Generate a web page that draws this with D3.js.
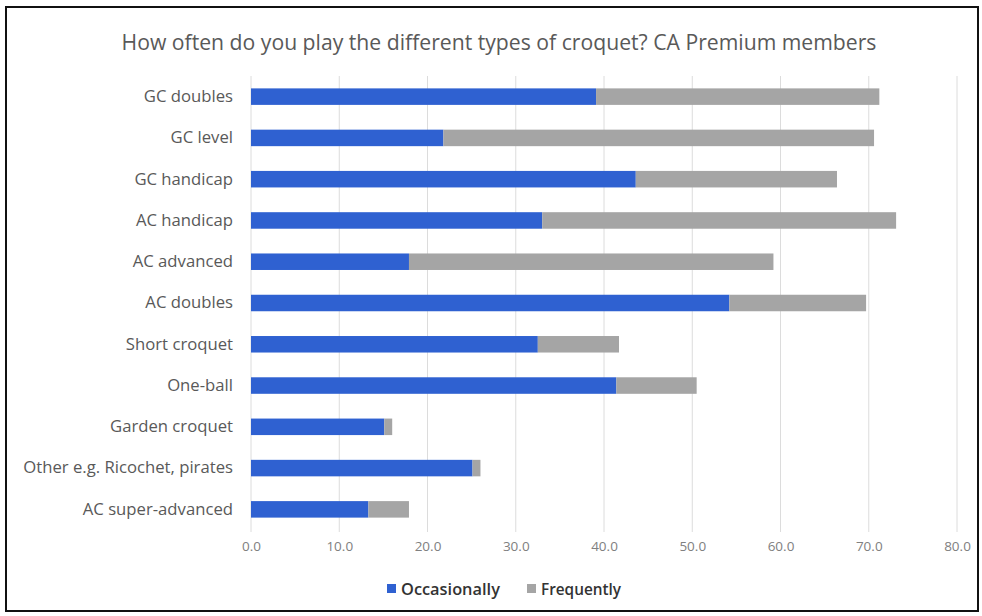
<!DOCTYPE html>
<html>
<head>
<meta charset="utf-8">
<script src="https://cdn.jsdelivr.net/npm/d3@7"></script>
<style>
  html, body { margin: 0; padding: 0; background: #fff; }
  svg { display: block; }
  text { font-family: "Open Sans", "Noto Sans", sans-serif; }
</style>
</head>
<body>
<svg id="chart" width="982" height="616"></svg>
<script>
const title = "How often do you play the different types of croquet? CA Premium members";
const categories = ["GC doubles", "GC level", "GC handicap", "AC handicap", "AC advanced",
  "AC doubles", "Short croquet", "One-ball", "Garden croquet", "Other e.g. Ricochet, pirates",
  "AC super-advanced"];
const occasionally = [39.1, 21.8, 43.6, 33.0, 17.9, 54.2, 32.5, 41.4, 15.1, 25.1, 13.3];
const frequently   = [32.1, 48.8, 22.8, 40.1, 41.3, 15.5, 9.2, 9.1, 0.9, 0.9, 4.6];
const seriesNames = ["Occasionally", "Frequently"];
const xTicks = [0, 10, 20, 30, 40, 50, 60, 70, 80];

const colors = { Occasionally: "#2f61d1", Frequently: "#a5a5a5" };

const svg = d3.select("#chart");

// frame
svg.append("rect").attr("x", 6).attr("y", 7).attr("width", 972).attr("height", 604)
  .attr("fill", "#fff").attr("stroke", "#111").attr("stroke-width", 2);

const x = d3.scaleLinear().domain([0, 80]).range([251, 957]);
const y = d3.scaleBand().domain(categories).range([76, 530]).paddingInner(0.6).paddingOuter(0.3);

function fit(sel, target) {
  const w = sel.node().getComputedTextLength();
  const fs = parseFloat(sel.attr("font-size"));
  sel.attr("font-size", (fs * target / w).toFixed(2));
  return fs * target / w;
}

// gridlines
svg.append("g").selectAll("line").data(xTicks).join("line")
  .attr("x1", d => x(d)).attr("x2", d => x(d))
  .attr("y1", 76).attr("y2", 532)
  .attr("stroke", "#dcdcdc").attr("stroke-width", 1);

// stacked bars
const rows = categories.map((c, i) => ({ cat: c, Occasionally: occasionally[i], Frequently: frequently[i] }));
const stack = d3.stack().keys(seriesNames)(rows);
svg.append("g").selectAll("g").data(stack).join("g")
  .attr("fill", d => colors[d.key])
  .selectAll("rect").data(d => d).join("rect")
  .attr("x", d => x(d[0]))
  .attr("width", d => x(d[1]) - x(d[0]))
  .attr("y", d => y(d.data.cat))
  .attr("height", y.bandwidth());

// x axis tick labels
const xAxis = d3.axisBottom(x).tickValues(xTicks).tickFormat(d3.format(".1f")).tickSize(0).tickPadding(0);
const gx = svg.append("g").attr("transform", "translate(0,541)").call(xAxis);
gx.select(".domain").remove();
gx.selectAll("text").attr("fill", "#808080").attr("font-size", 13.5)
  .attr("font-family", "\"Open Sans\", sans-serif").attr("dy", "0.71em");

// y axis category labels
const yAxis = d3.axisLeft(y).tickSize(0).tickPadding(18);
const gy = svg.append("g").attr("transform", "translate(251,0)").call(yAxis);
gy.select(".domain").remove();
gy.selectAll("text").attr("fill", "#595959").attr("font-size", 15)
  .attr("font-family", "\"Open Sans\", sans-serif");
const other = gy.selectAll("text").filter(d => d === "Other e.g. Ricochet, pirates");
const lfs = fit(other, 210);
gy.selectAll("text").attr("font-size", lfs.toFixed(2));

// title
const t = svg.append("text").attr("x", 499).attr("y", 50).attr("text-anchor", "middle")
  .attr("fill", "#595959").attr("font-size", 20).text(title);
fit(t, 755);

// legend
const lg = svg.append("g").attr("transform", "translate(0,589)");
const items = [
  { name: "Occasionally", sx: 387, tx: 401, w: 99 },
  { name: "Frequently", sx: 527, tx: 541, w: 80 }
];
items.forEach(it => {
  lg.append("rect").attr("x", it.sx).attr("y", -5).attr("width", 9).attr("height", 9)
    .attr("fill", colors[it.name]);
  const tt = lg.append("text").attr("x", it.tx).attr("y", 6).attr("fill", "#333")
    .attr("font-size", 16).attr("font-weight", 600).text(it.name);
  fit(tt, it.w);
});
</script>
</body>
</html>
